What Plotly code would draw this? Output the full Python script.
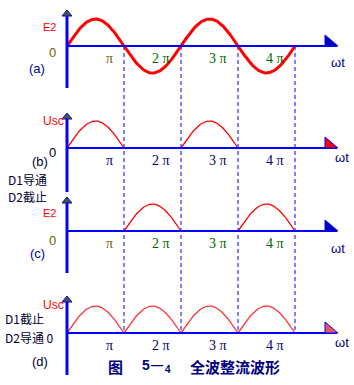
import numpy as np
import plotly.graph_objects as go

# ---------------- data ----------------
panel_labels = ["(a)", "(b)", "(c)", "(d)"]
tick_vals = [1, 2, 3, 4]                  # multiples of pi
tick_text = ["π", "2 π", "3 π", "4 π"]
amplitude = 1.0
full_span = [0, 4]                        # panel (a): e2 over 0..4pi
arches_b = [0, 2]                         # D1 conducting half cycles (start, in pi)
arches_c = [1, 3]                         # D2 conducting half cycles
arches_d = [0, 1, 2, 3]                   # full-wave output
y_top_labels = ["E2", "Usc", "E2", "Usc"]
caption = ["图", "5", "—", "4", "全波整流波形"]

# ---------------- geometry ----------------
W, H = 354, 385
X0_PX, PX_PER_PI = 67, 57
AMP_PX = 27
base_px = [46, 148, 231, 333]
top_px = [10, 113, 197, 296]
bot_px = [88, 192, 273, 375]
arrow_fill = ["#0000bb", "#ff0000", "#0000bb", "#e85858"]
tick_colors = [["#666600", "#006600", "#006600", "#006600"],
               ["#000066"] * 4,
               ["#666600", "#006600", "#006600", "#006600"],
               ["#000066"] * 4]

def dx(px):
    return (px - X0_PX) / PX_PER_PI

def dy(i, py):
    return (base_px[i] - py) / AMP_PX

def paper(px, py):
    return px / W, 1 - py / H

fig = go.Figure()
SAMPLES = 90

def arch_xy(starts):
    xs, ys = [], []
    for s in starts:
        t = np.linspace(s, s + 1, SAMPLES)
        xs += list(t) + [None]
        ys += list(amplitude * np.abs(np.sin(np.pi * t))) + [None]
    return xs, ys

yrefs = ["y", "y2", "y3", "y4"]
shapes = []
annotations = []

# dashed guide lines from (a) axis to (d) axis
for k in tick_vals:
    shapes.append(dict(type="line", xref="x", yref="y", x0=k, x1=k,
                       y0=0, y1=-(base_px[3] - base_px[0]) / AMP_PX,
                       line=dict(color="#0000ff", width=1, dash="4px,3px"), layer="below"))

for i in range(4):
    yr = yrefs[i]
    # horizontal axis
    shapes.append(dict(type="line", xref="x", yref=yr, x0=0, x1=dx(337), y0=0, y1=0,
                       line=dict(color="#0000ff", width=2)))
    # vertical axis
    shapes.append(dict(type="line", xref="x", yref=yr, x0=0, x1=0,
                       y0=dy(i, bot_px[i]), y1=dy(i, top_px[i] + 4),
                       line=dict(color="#0000ff", width=3)))
    # top arrow
    tp = top_px[i]
    shapes.append(dict(type="path", xref="x", yref=yr,
                       path=f"M {dx(X0_PX-5)} {dy(i, tp+6)} L {dx(X0_PX)} {dy(i, tp)} L {dx(X0_PX+5)} {dy(i, tp+6)} Z",
                       fillcolor="#4a5a1e", line=dict(color="#0000ff", width=1)))
    # right arrow
    b = base_px[i]
    shapes.append(dict(type="path", xref="x", yref=yr,
                       path=f"M {dx(325)} {dy(i, b)} L {dx(325)} {dy(i, b-11)} L {dx(338)} {dy(i, b)} Z",
                       fillcolor=arrow_fill[i], line=dict(color="#0000ff", width=1)))
    # pi tick labels
    for k, txt, col in zip(tick_vals, tick_text, tick_colors[i]):
        annotations.append(dict(x=k, y=0, xref="x", yref=yr, text=txt, showarrow=False,
                                xanchor="right", yanchor="top", xshift=-9, yshift=-3,
                                font=dict(family="Liberation Serif", size=14, color=col)))

# waveforms
t = np.linspace(full_span[0], full_span[1], 4 * SAMPLES)
fig.add_trace(go.Scatter(x=t, y=amplitude * np.sin(np.pi * t), mode="lines",
                         line=dict(color="#ff0000", width=3), yaxis="y", hoverinfo="skip"))
for i, starts, col in [(1, arches_b, "#ff0000"), (2, arches_c, "#ff0000"), (3, arches_d, "#ff3333")]:
    xs, ys = arch_xy(starts)
    fig.add_trace(go.Scatter(x=xs, y=ys, mode="lines", line=dict(color=col, width=1.3),
                             yaxis=yrefs[i], hoverinfo="skip"))

def label(px, py, text, color, size=12, family="Liberation Sans", anchor="center", pad=1):
    x, y = paper(px, py)
    annotations.append(dict(x=x, y=y, xref="paper", yref="paper", text=text, showarrow=False,
                            xanchor=anchor, yanchor="middle", borderpad=pad,
                            font=dict(family=family, size=size, color=color)))

# panel texts
label(49, 27, y_top_labels[0], "#ff0000", 11)
label(52, 53, "0", "#666600", 13)
label(37, 68, panel_labels[0], "#000099", 13)
label(338, 62, "ωt", "#000099", 13)

label(53, 121, y_top_labels[1], "#ff0000", 12)
label(52, 152, "0", "#000033", 13)
label(40, 162, panel_labels[1], "#000033", 13)
label(6, 180, "D1导通", "#000033", 12, "Noto Sans CJK SC", "left")
label(6, 197, "D2截止", "#000033", 12, "Noto Sans CJK SC", "left")
label(342, 157, "ωt", "#000066", 13)

label(49, 213, y_top_labels[2], "#ff0000", 11)
label(52, 240, "0", "#666600", 13)
label(37, 253, panel_labels[2], "#000099", 13)
label(338, 248, "ωt", "#000099", 13)

label(53, 305, y_top_labels[3], "#ff0000", 12)
label(3, 318, "D1截止", "#000033", 12, "Noto Sans CJK SC", "left")
label(3, 337, "D2导通 0", "#000033", 12, "Noto Sans CJK SC", "left")
label(40, 361, panel_labels[3], "#000033", 13)
label(342, 342, "ωt", "#000066", 13)

label(115, 366, f"<b>{caption[0]}</b>", "#000080", 15, "Noto Sans CJK SC")
label(141, 365, f"<b>{caption[1]}</b>", "#000080", 14, "Liberation Sans", "left", 0)
label(150, 365, f"<b>{caption[2]}</b>", "#000080", 12, "Liberation Sans", "left", 0)
label(164, 369, f"<b>{caption[3]}</b>", "#000080", 10, "Liberation Sans", "left", 0)
label(235, 366, f"<b>{caption[4]}</b>", "#000080", 15, "Noto Sans CJK SC")

axis_common = dict(visible=False, fixedrange=True)
layout = dict(width=W, height=H, margin=dict(l=0, r=0, t=0, b=0),
              paper_bgcolor="white", plot_bgcolor="white", showlegend=False,
              xaxis=dict(range=[dx(0), dx(W)], **axis_common),
              shapes=shapes, annotations=annotations)
for i in range(4):
    hi = base_px[i] / AMP_PX
    rng = [hi - H / AMP_PX, hi]
    key = "yaxis" if i == 0 else f"yaxis{i+1}"
    d = dict(range=rng, domain=[0, 1], **axis_common)
    if i:
        d["overlaying"] = "y"
    layout[key] = d
fig.update_layout(**layout)
fig.write_html("out.html", config={"displayModeBar": False})
